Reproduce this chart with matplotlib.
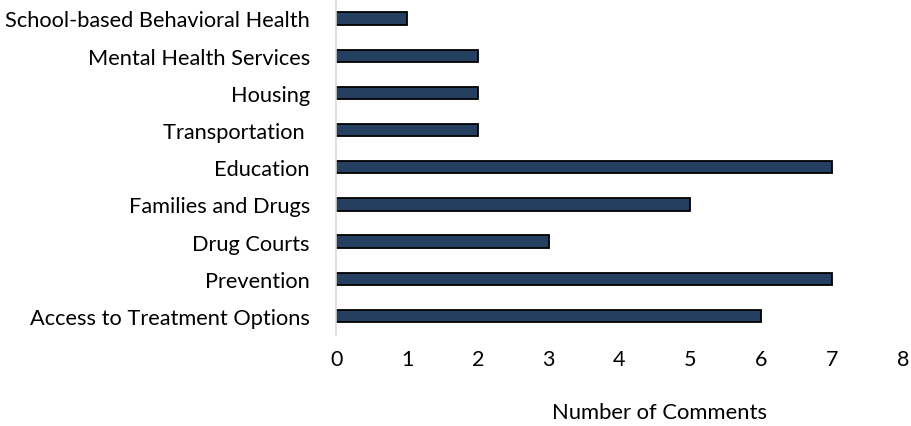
import matplotlib.pyplot as plt

plt.rcParams['font.family'] = ['Lato', 'DejaVu Sans']

# Comment counts per topic, bottom to top
topics = [
    "Access to Treatment Options",
    "Prevention",
    "Drug Courts",
    "Families and Drugs",
    "Education",
    "Transportation ",
    "Housing",
    "Mental Health Services",
    "School-based Behavioral Health",
]
comments = [6, 7, 3, 5, 7, 2, 2, 2, 1]

fig = plt.figure(figsize=(9.11, 4.27), dpi=100)
ax = fig.add_axes([0.369, 0.214, 0.622, 0.784])

ax.barh(range(len(topics)), comments, height=0.33,
        color="#243f60", edgecolor="black", linewidth=1.3)

ax.set_yticks(range(len(topics)))
ax.set_yticklabels(topics, fontsize=15.7)
ax.set_ylim(-0.5, len(topics) - 0.5)
ax.set_xlim(0, 8)
ax.set_xticks(range(0, 9))
ax.tick_params(axis="x", length=0, pad=10, labelsize=15.5)
ax.tick_params(axis="y", length=0, pad=19)

for side in ["top", "right", "bottom"]:
    ax.spines[side].set_visible(False)
ax.spines["left"].set_color("#d9d9d9")
ax.spines["left"].set_linewidth(1.2)

ax.set_xlabel("Number of Comments", fontsize=15.8)
ax.xaxis.set_label_coords(0.571, -0.2)

fig.savefig("out.png", dpi=100)
